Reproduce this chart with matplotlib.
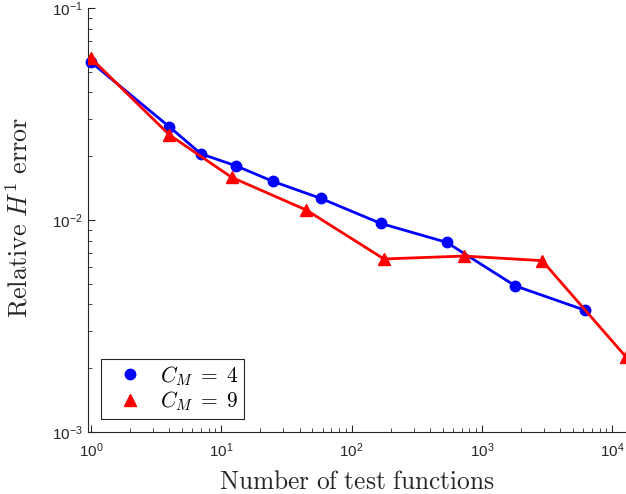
import matplotlib
matplotlib.use('Agg')
import matplotlib.pyplot as plt
from matplotlib.lines import Line2D

plt.rcParams['font.family'] = ['Liberation Sans', 'DejaVu Sans']
plt.rcParams['mathtext.fontset'] = 'cm'

# data
n_cm4 = [1, 4, 7, 13, 25, 58, 167, 535, 1800, 6125]
err_cm4 = [0.0556, 0.0275, 0.0205, 0.0180, 0.0152, 0.01265, 0.00964, 0.00785, 0.00489, 0.00376]
n_cm9 = [1, 4, 12, 45, 177, 731, 2896, 12740]
err_cm9 = [0.0580, 0.0252, 0.0159, 0.01114, 0.00655, 0.00676, 0.00643, 0.00226]
labels = [r'$C_M\;=\;4$', r'$C_M\;=\;9$']

fig = plt.figure(figsize=(6.26, 4.94), dpi=100)
ax = fig.add_axes([0.1406, 0.1255, 0.8594, 0.8583])

ax.loglog(n_cm4, err_cm4, '-o', color='#0000ff', lw=2, ms=7.5, clip_on=False, zorder=3)
ax.loglog(n_cm9, err_cm9, '-^', color='#ff0000', lw=2, ms=8.5, clip_on=True, zorder=3)

ax.set_xlim(0.95, 12740)
ax.set_ylim(1e-3, 1e-1)

for s in ['top', 'right']:
    ax.spines[s].set_visible(False)
for s in ['left', 'bottom']:
    ax.spines[s].set_color('#262626')
    ax.spines[s].set_linewidth(0.8)

ax.tick_params(which='both', direction='in', colors='#262626', labelsize=11)
ax.tick_params(which='major', length=5)
ax.tick_params(which='minor', length=3)
ax.tick_params(axis='x', pad=7)

ax.set_xlabel(r'$\mathrm{Number\ of\ test\ functions}$', fontsize=18.3, color='#262626')
ax.xaxis.set_label_coords(0.5, -0.09)
ax.set_ylabel(r'$\mathrm{Relative}\ H^1\ \mathrm{error}$', fontsize=18.8, color='#262626')
ax.yaxis.set_label_coords(-0.104, 0.507)

handles = [Line2D([], [], ls='none', marker='o', color='#0000ff', ms=7.5),
           Line2D([], [], ls='none', marker='^', color='#ff0000', ms=8.5)]
leg = ax.legend(handles, labels, loc='lower left', fontsize=15.5, fancybox=False,
                edgecolor='#262626', framealpha=1, handlelength=2.2, handletextpad=0.3,
                borderpad=0.25, labelspacing=0.1, borderaxespad=0,
                bbox_to_anchor=(0.024, 0.031))
leg.get_frame().set_linewidth(0.8)

fig.savefig('out.png', dpi=100)
